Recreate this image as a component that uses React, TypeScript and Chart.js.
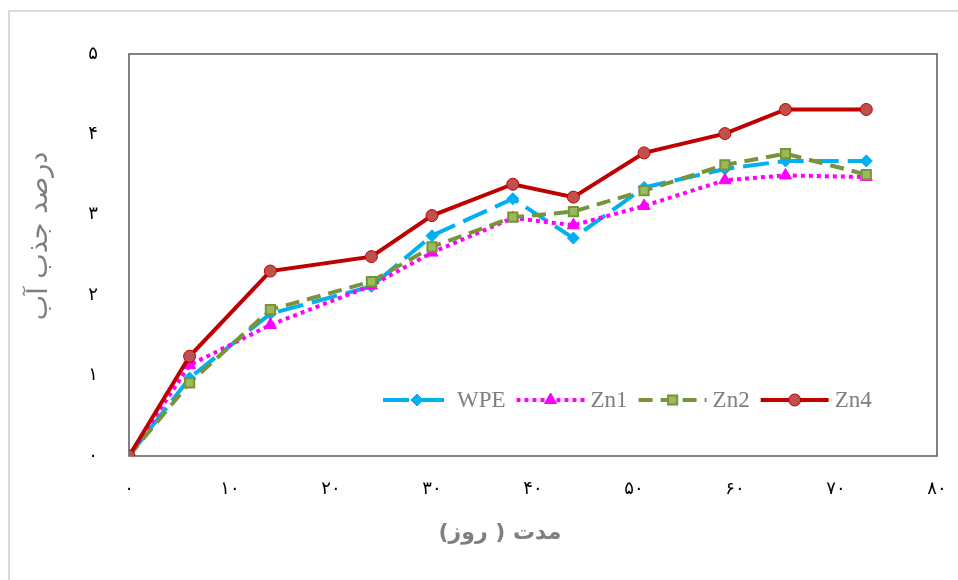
import React, { useEffect, useRef } from "react";
import { Chart, registerables } from "chart.js";
import { drawPoint } from "chart.js/helpers";

Chart.register(...registerables);

const days = [0, 6, 14, 24, 30, 38, 44, 51, 59, 65, 73];
const wpe = [0, 0.97, 1.77, 2.11, 2.74, 3.2, 2.71, 3.34, 3.57, 3.67, 3.67];
const zn1 = [0, 1.13, 1.63, 2.12, 2.53, 2.96, 2.87, 3.11, 3.43, 3.49, 3.47];
const zn2 = [0, 0.91, 1.82, 2.17, 2.6, 2.97, 3.04, 3.3, 3.62, 3.76, 3.5];
const zn4 = [0, 1.24, 2.3, 2.48, 2.99, 3.38, 3.22, 3.77, 4.01, 4.31, 4.31];

const seriesNames = ["WPE", "Zn1", "Zn2", "Zn4"];
const xTitle = "مدت ( روز)";
const yTitle = "درصد جذب آب";
const persianDigits = ["۰", "۱", "۲", "۳", "۴", "۵", "۶", "۷", "۸", "۹"];

const toPersian = (v: number | string) =>
  String(v).replace(/[0-9]/g, (d) => persianDigits[Number(d)]);

const styles = [
  { color: "#00b0f0", fill: "#00b0f0", dash: [26, 9], point: "rectRot", radius: 6, width: 4 },
  { color: "#ff00ff", fill: "#ff00ff", dash: [4, 4], point: "triangle", radius: 7, width: 4 },
  { color: "#77933c", fill: "#9bbb59", dash: [14, 8], point: "rect", radius: 6.5, width: 4 },
  { color: "#c00000", fill: "#c0504d", dash: [], point: "circle", radius: 6, width: 4 },
];

const decorPlugin = {
  id: "decor",
  beforeDraw(chart: any) {
    const ctx = chart.ctx;
    ctx.save();
    ctx.fillStyle = "#ffffff";
    ctx.fillRect(0, 0, chart.width, chart.height);
    ctx.strokeStyle = "#d9d9d9";
    ctx.lineWidth = 2;
    ctx.beginPath();
    ctx.moveTo(9, chart.height);
    ctx.lineTo(9, 11);
    ctx.lineTo(chart.width, 11);
    ctx.stroke();
    ctx.restore();
  },
  beforeDatasetsDraw(chart: any) {
    const ctx = chart.ctx;
    const a = chart.chartArea;
    ctx.save();
    ctx.strokeStyle = "#595959";
    ctx.lineWidth = 1.5;
    ctx.strokeRect(a.left, a.top, a.right - a.left, a.bottom - a.top);
    ctx.restore();
  },
  afterDraw(chart: any) {
    const ctx = chart.ctx;
    ctx.save();
    ctx.fillStyle = "#7f7f7f";
    ctx.font = '27px "DejaVu Sans"';
    ctx.textAlign = "center";
    ctx.textBaseline = "middle";
    ctx.direction = "rtl";
    ctx.translate(40, 236);
    ctx.rotate(-Math.PI / 2);
    ctx.fillText(yTitle, 0, 0);
    ctx.restore();

    ctx.save();
    ctx.fillStyle = "#7f7f7f";
    ctx.font = 'bold 22px "DejaVu Sans"';
    ctx.textAlign = "center";
    ctx.textBaseline = "middle";
    ctx.direction = "rtl";
    ctx.fillText(xTitle, 500, 533);
    ctx.restore();

    // legend
    ctx.save();
    ctx.font = '23px "Liberation Serif"';
    ctx.textBaseline = "middle";
    ctx.textAlign = "left";
    let x = 383;
    const y = 400;
    const sampleW = 68;
    seriesNames.forEach((name, i) => {
      const s = styles[i];
      ctx.save();
      ctx.strokeStyle = s.color;
      ctx.lineWidth = s.width;
      ctx.setLineDash(s.dash);
      ctx.beginPath();
      ctx.moveTo(x, y);
      ctx.lineTo(x + sampleW, y);
      ctx.stroke();
      ctx.setLineDash([]);
      ctx.fillStyle = s.fill;
      ctx.strokeStyle = s.color;
      ctx.lineWidth = i === 2 ? 2 : 1;
      drawPoint(ctx, { pointStyle: s.point, radius: s.radius, borderWidth: ctx.lineWidth, rotation: 0 } as any, x + sampleW / 2, y);
      ctx.restore();
      ctx.fillStyle = "#7f7f7f";
      const tx = x + sampleW + 6;
      ctx.fillText(name, tx, y + 1);
      x = tx + ctx.measureText(name).width + 11;
    });
    ctx.restore();
  },
};

export default function App() {
  const ref = useRef<HTMLCanvasElement>(null);
  useEffect(() => {
    if (!ref.current) return;
    const seriesValues = [wpe, zn1, zn2, zn4];
    const chart = new Chart(ref.current, {
      type: "line",
      data: {
        datasets: seriesNames.map((name, i) => ({
          label: name,
          data: days.map((d, j) => ({ x: d, y: seriesValues[i][j] })),
          borderColor: styles[i].color,
          backgroundColor: styles[i].fill,
          borderWidth: styles[i].width,
          borderDash: styles[i].dash,
          pointStyle: styles[i].point as any,
          pointRadius: styles[i].radius,
          pointBackgroundColor: styles[i].fill,
          pointBorderColor: styles[i].color,
          pointBorderWidth: i === 2 ? 2 : 1,
          tension: 0,
          fill: false,
          order: 3 - i,
        })),
      },
      options: {
        responsive: false,
        animation: false,
        layout: { padding: { left: 0, top: 54, right: 21, bottom: 0 } },
        plugins: { legend: { display: false }, tooltip: { enabled: false } },
        scales: {
          x: {
            type: "linear",
            min: 0,
            max: 80,
            grid: { display: false, drawTicks: false },
            border: { display: false },
            afterFit: (s: any) => {
              s.height = 124;
              s.paddingRight = 0;
              s.paddingLeft = 0;
            },
            ticks: {
              stepSize: 10,
              padding: 23,
              color: "#000000",
              font: { family: "DejaVu Sans", size: 18 },
              maxRotation: 0,
              callback: (v: any) => toPersian(v),
            },
          },
          y: {
            min: 0,
            max: 5,
            grid: { display: false, drawTicks: false },
            border: { display: false },
            afterFit: (s: any) => {
              s.width = 129;
              s.paddingTop = 0;
              s.paddingBottom = 0;
            },
            ticks: {
              stepSize: 1,
              padding: 31,
              color: "#000000",
              font: { family: "DejaVu Sans", size: 18 },
              callback: (v: any) => toPersian(v),
            },
          },
        },
      },
      plugins: [decorPlugin],
    });
    return () => chart.destroy();
  }, []);
  return (
    <div style={{ position: "absolute", left: 0, top: 0, width: 958, height: 580 }}>
      <canvas ref={ref} width={958} height={580} />
    </div>
  );
}
